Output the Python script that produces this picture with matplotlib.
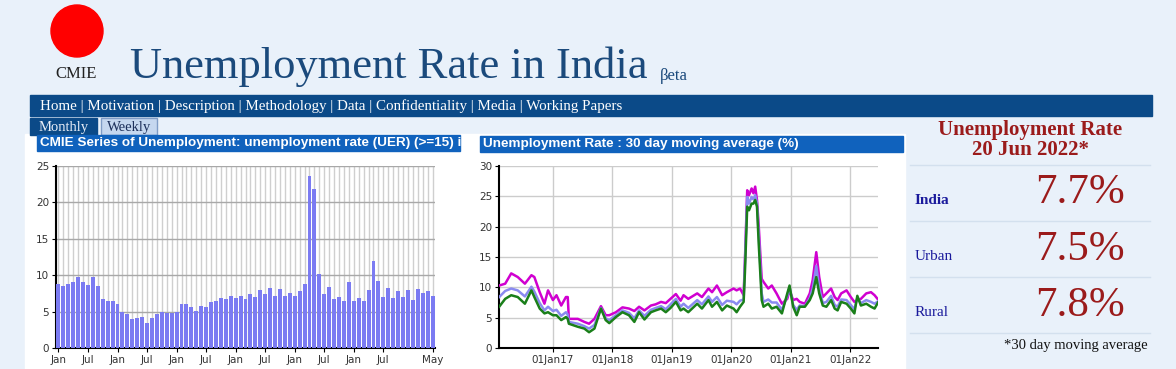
import matplotlib
matplotlib.use('Agg')
import matplotlib.pyplot as plt
import matplotlib.dates as mdates
from matplotlib.patches import Rectangle, Circle
import pandas as pd

# monthly UER (%), Jan 2016 .. May 2022
monthly_uer = [8.8, 8.5, 8.8, 9.0, 9.7, 9.0, 8.6, 9.7, 8.5, 6.7, 6.5, 6.4,
               6.0, 5.0, 4.7, 4.0, 4.1, 4.2, 3.4, 4.1, 4.7, 5.0, 4.8, 4.8,
               5.0, 6.0, 6.1, 5.6, 5.1, 5.8, 5.7, 6.3, 6.5, 6.8, 6.7, 7.1,
               6.9, 7.2, 6.7, 7.4, 7.0, 7.9, 7.4, 8.2, 7.1, 8.1, 7.2, 7.6,
               7.2, 7.8, 8.8, 23.6, 21.8, 10.2, 7.4, 8.4, 6.7, 7.0, 6.5, 9.1,
               6.5, 6.9, 6.5, 8.0, 11.9, 9.2, 7.0, 8.3, 6.9, 7.8, 7.0, 7.9,
               6.6, 8.1, 7.6, 7.8, 7.1]
month_tick_pos = [0, 6, 12, 18, 24, 30, 36, 42, 48, 54, 60, 66, 76]
month_tick_lbl = ['Jan', 'Jul', 'Jan', 'Jul', 'Jan', 'Jul', 'Jan', 'Jul',
                  'Jan', 'Jul', 'Jan', 'Jul', 'May']

# 30 day moving average (%)
ma_dates = ['2016-02-06', '2016-03-14', '2016-04-20', '2016-05-30', '2016-07-13', '2016-08-22',
            '2016-09-09', '2016-10-12', '2016-11-10', '2016-12-02', '2017-01-01', '2017-01-23',
            '2017-02-21', '2017-03-22', '2017-04-02', '2017-04-09', '2017-06-03', '2017-07-13',
            '2017-08-11', '2017-09-13', '2017-10-23', '2017-11-21', '2017-12-13', '2018-01-23',
            '2018-03-04', '2018-04-13', '2018-05-16', '2018-06-14', '2018-07-17', '2018-08-26',
            '2018-09-24', '2018-10-27', '2018-11-25', '2018-12-24', '2019-01-26', '2019-02-24',
            '2019-03-14', '2019-04-12', '2019-06-06', '2019-07-05', '2019-08-14', '2019-09-05',
            '2019-10-05', '2019-11-06', '2019-12-05', '2020-01-15', '2020-02-03', '2020-02-24',
            '2020-03-17', '2020-03-25', '2020-04-08', '2020-04-19', '2020-05-05', '2020-05-16',
            '2020-05-27', '2020-06-07', '2020-06-18', '2020-07-06', '2020-07-17', '2020-08-15',
            '2020-09-06', '2020-10-05', '2020-11-07', '2020-12-10', '2020-12-24', '2021-01-15',
            '2021-02-06', '2021-02-24', '2021-03-28', '2021-04-27', '2021-05-15', '2021-06-06',
            '2021-06-24', '2021-07-16', '2021-08-07', '2021-09-05', '2021-09-27', '2021-10-15',
            '2021-11-06', '2021-12-09', '2022-01-04', '2022-01-26', '2022-02-13', '2022-03-07',
            '2022-04-09', '2022-05-08', '2022-05-30', '2022-06-20']
urban = [10.3, 10.6, 12.3, 11.7, 10.6, 12.0, 11.7, 9.2, 7.3, 9.5, 7.9, 8.7,
         7.0, 8.4, 8.4, 4.8, 4.8, 4.3, 4.0, 4.8, 6.9, 5.4, 5.4, 5.9,
         6.7, 6.5, 6.1, 6.8, 6.2, 7.0, 7.2, 7.6, 7.4, 8.1, 8.9, 7.8,
         8.7, 8.1, 9.0, 8.4, 9.8, 9.2, 10.3, 8.7, 9.2, 9.8, 9.5, 9.8,
         8.7, 14.5, 26.0, 25.2, 26.3, 25.5, 26.6, 24.4, 20.0, 11.4, 10.9, 9.8,
         10.3, 9.0, 7.3, 8.1, 9.5, 7.9, 8.1, 7.6, 7.3, 9.0, 11.2, 15.8,
         11.7, 8.4, 9.0, 9.8, 8.4, 7.9, 9.0, 9.5, 8.4, 7.6, 7.9, 8.1,
         9.0, 9.2, 8.7, 8.0]
india = [8.4, 9.4, 9.8, 9.5, 8.5, 10.1, 9.3, 7.4, 6.2, 6.8, 6.1, 6.3,
         5.3, 5.9, 5.5, 4.3, 4.0, 3.6, 3.2, 3.8, 6.6, 4.9, 4.6, 5.4,
         6.2, 5.8, 4.9, 6.2, 5.3, 6.3, 6.6, 6.9, 6.4, 7.2, 8.1, 6.8,
         7.3, 6.6, 7.9, 7.2, 8.5, 7.6, 8.4, 7.1, 7.8, 7.6, 7.2, 7.8,
         8.0, 14.0, 24.9, 23.8, 24.9, 24.5, 25.2, 23.9, 18.5, 9.0, 7.6, 8.0,
         7.5, 7.5, 6.3, 8.6, 10.0, 7.1, 6.3, 7.0, 6.9, 8.2, 9.8, 13.5,
         9.9, 7.4, 7.6, 8.6, 7.1, 6.8, 8.0, 7.9, 7.1, 6.4, 8.3, 7.4,
         7.9, 7.6, 7.3, 7.7]
rural = [6.8, 8.1, 8.7, 8.4, 7.3, 9.5, 8.4, 6.5, 5.7, 5.9, 5.4, 5.4,
         4.6, 5.1, 4.8, 4.0, 3.5, 3.2, 2.6, 3.2, 6.5, 4.6, 4.1, 5.1,
         5.9, 5.4, 4.3, 5.9, 4.7, 5.9, 6.2, 6.5, 5.9, 6.6, 7.6, 6.2,
         6.5, 5.9, 7.3, 6.5, 7.9, 6.8, 7.6, 6.2, 7.0, 6.5, 5.9, 6.8,
         7.6, 12.5, 23.3, 22.7, 23.8, 23.8, 24.4, 23.3, 17.0, 7.9, 6.8, 7.3,
         6.5, 6.8, 5.7, 9.0, 10.3, 6.8, 5.4, 6.8, 6.8, 7.9, 9.0, 11.7,
         9.0, 7.0, 6.8, 7.9, 6.5, 6.2, 7.6, 7.3, 6.5, 5.7, 8.6, 7.0,
         7.3, 6.8, 6.5, 7.5]

panel_labels = ['India', 'Urban', 'Rural']
panel_values = ['7.7%', '7.5%', '7.8%']

page_bg = '#e9f1fa'
navy = '#0b4a88'
bar_blue = '#1062bd'
dark_red = '#9b1b1b'

fig = plt.figure(figsize=(11.76, 3.69), dpi=100)
fig.patch.set_facecolor(page_bg)

# page furniture, drawn in pixel coordinates
bg = fig.add_axes([0, 0, 1, 1])
bg.set_xlim(0, 1176)
bg.set_ylim(369, 0)
bg.axis('off')

bg.add_patch(Rectangle((25, 134), 880, 235, color='white', zorder=0))
bg.add_patch(Circle((77, 31), 26, color='#ff0000'))
bg.text(76, 74, 'CMIE', family='Liberation Serif', fontsize=12, color='#222222',
        ha='center', va='center')
bg.text(130, 78, 'Unemployment Rate in India', family='Liberation Serif', fontsize=32,
        color='#1b4a7c', va='baseline')
bg.text(660, 80, 'βeta', family='Liberation Serif', fontsize=12, color='#1b4a7c', va='baseline')

bg.add_patch(Rectangle((30, 95), 1122, 21, color=navy))
bg.text(40, 106, 'Home | Motivation | Description | Methodology | Data | Confidentiality | Media | Working Papers',
        family='Liberation Serif', fontsize=10.8, color='white', va='center')

# tabs
bg.add_patch(Rectangle((30, 118), 67, 17, color=navy))
bg.text(39, 127, 'Monthly', family='Liberation Serif', fontsize=10.5, color='#e8eef8', va='center')
bg.add_patch(Rectangle((101, 118), 56, 17, facecolor='#c5d7ef', edgecolor='#7f9cc6', lw=1))
bg.text(107, 127, 'Weekly', family='Liberation Serif', fontsize=10.5, color='#1c2f5a', va='center')

# chart headers (left one is cut off on the page)
bg.add_patch(Rectangle((37, 135), 423, 16, color=bar_blue))
bg.text(40, 143, 'CMIE Series of Unemployment: unemployment rate (UER) (>=15) i',
        family='Liberation Sans', fontweight='bold', fontsize=9.7, color='white', va='center')
bg.add_patch(Rectangle((480, 136), 423, 16, color=bar_blue))
bg.text(483, 144, 'Unemployment Rate : 30 day moving average (%)',
        family='Liberation Sans', fontweight='bold', fontsize=9.7, color='white', va='center')

# right info panel
bg.text(1030, 130, 'Unemployment Rate', family='Liberation Serif', fontweight='bold',
        fontsize=15, color=dark_red, ha='center', va='center')
bg.text(1030, 150, '20 Jun 2022*', family='Liberation Serif', fontweight='bold',
        fontsize=15, color=dark_red, ha='center', va='center')
for yy in [165, 221, 277, 333]:
    bg.plot([910, 1150], [yy, yy], color='#d3e0ee', lw=1)
for i, (lab, val) in enumerate(zip(panel_labels, panel_values)):
    yy = 193 + i * 56.5
    bg.text(915, yy + 7, lab, family='Liberation Serif', fontsize=11,
            fontweight='bold' if i == 0 else 'normal', color='#1a1a9c', va='center')
    bg.text(1125, yy, val, family='Liberation Serif', fontsize=31, color=dark_red,
            ha='right', va='center')
bg.text(1148, 346, '*30 day moving average', family='Liberation Serif', fontsize=10.5,
        color='#111111', ha='right', va='center')


def px_axes(x0, y0, x1, y1):
    return fig.add_axes([x0 / 1176, (369 - y1) / 369, (x1 - x0) / 1176, (y1 - y0) / 369])


# left: monthly bars
ax1 = px_axes(56, 166, 435, 348)
ax1.set_facecolor('white')
xs = list(range(len(monthly_uer)))
ax1.bar(xs, monthly_uer, width=0.8, color='#7b7bf2', zorder=3)
ax1.set_xlim(-0.5, len(monthly_uer) - 0.5)
ax1.set_ylim(0, 25)
ax1.set_yticks([0, 5, 10, 15, 20, 25])
for x in xs:
    ax1.axvline(x, color='#cfcfcf', lw=1, zorder=1)
for y in [5, 10, 15, 20, 25]:
    ax1.axhline(y, color='#a8a8a8', lw=1, zorder=2)
ax1.set_xticks(month_tick_pos)
ax1.set_xticklabels(month_tick_lbl)
for s in ['top', 'right']:
    ax1.spines[s].set_visible(False)
ax1.spines['left'].set_linewidth(1.5)
ax1.spines['bottom'].set_linewidth(1.5)
ax1.tick_params(labelsize=7.5, labelcolor='#333333', length=3, pad=2)

# right: moving averages
ax2 = px_axes(499, 166, 878, 348)
ax2.set_facecolor('white')
d = pd.to_datetime(ma_dates)
ax2.plot(d, urban, color='#d000d0', lw=1.8, zorder=3)
ax2.plot(d, india, color='#8a8af0', lw=1.8, zorder=4)
ax2.plot(d, rural, color='#1a7f1a', lw=1.8, zorder=5)
ax2.set_xlim(pd.Timestamp('2016-02-05'), pd.Timestamp('2022-06-20'))
ax2.set_ylim(0, 30)
ax2.set_yticks([0, 5, 10, 15, 20, 25, 30])
ax2.xaxis.set_major_locator(mdates.YearLocator(month=1, day=1))
ax2.xaxis.set_major_formatter(mdates.DateFormatter('%d%b%y'))
ax2.grid(True, color='#cccccc', lw=1, zorder=0)
for s in ['top', 'right']:
    ax2.spines[s].set_visible(False)
ax2.spines['left'].set_linewidth(1.5)
ax2.spines['bottom'].set_linewidth(1.5)
ax2.tick_params(labelsize=7.5, labelcolor='#333333', length=3, pad=2)

plt.savefig('out.png', dpi=100, facecolor=fig.get_facecolor())
